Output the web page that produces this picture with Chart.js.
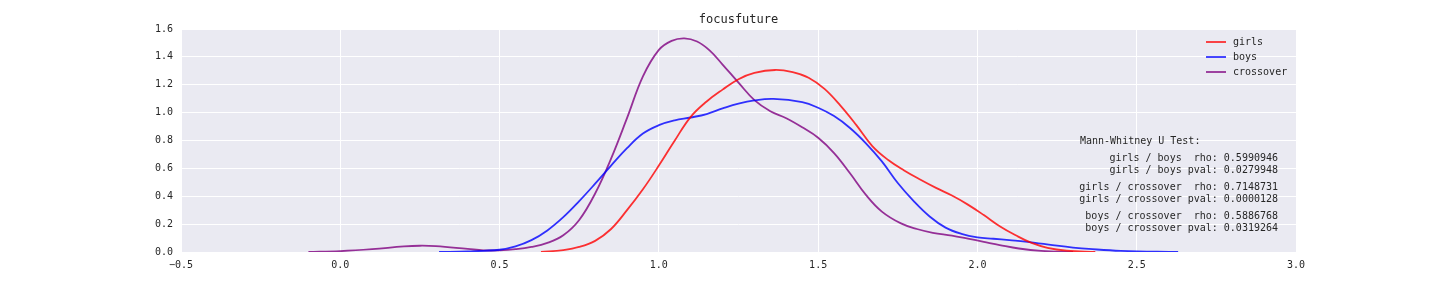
<!DOCTYPE html>
<html>
<head>
<meta charset="utf-8">
<script src="https://cdn.jsdelivr.net/npm/chart.js@4"></script>
<style>
body{margin:0;background:#fff;}
#wrap{width:1440px;height:288px;position:relative;}
</style>
</head>
<body>
<div id="wrap"><canvas id="kdeChart"></canvas></div>
<script>
// kde curves
const girlsX = [0.63,0.70,0.75,0.80,0.85,0.90,0.95,1.00,1.05,1.10,1.15,1.20,1.25,1.30,1.365,1.42,1.47,1.52,1.57,1.62,1.67,1.72,1.77,1.82,1.87,1.92,1.97,2.02,2.07,2.12,2.17,2.22,2.28,2.37];
const girlsY = [0,0.014,0.036,0.08,0.165,0.30,0.45,0.62,0.80,0.97,1.08,1.165,1.24,1.285,1.306,1.29,1.25,1.17,1.05,0.91,0.76,0.66,0.585,0.52,0.46,0.405,0.34,0.265,0.185,0.12,0.065,0.03,0.01,0];

const boysX = [0.31,0.40,0.50,0.55,0.60,0.65,0.70,0.75,0.80,0.85,0.90,0.95,1.00,1.05,1.10,1.15,1.20,1.25,1.30,1.36,1.45,1.50,1.55,1.60,1.65,1.70,1.75,1.80,1.85,1.90,1.95,2.00,2.05,2.10,2.15,2.20,2.25,2.30,2.35,2.45,2.63];
const boysY = [0,0.004,0.016,0.04,0.085,0.155,0.25,0.365,0.49,0.62,0.745,0.85,0.91,0.945,0.965,0.99,1.03,1.065,1.088,1.098,1.075,1.035,0.975,0.89,0.78,0.65,0.495,0.365,0.255,0.175,0.13,0.105,0.095,0.085,0.075,0.06,0.045,0.032,0.022,0.008,0];

const crossX = [-0.10,0.0,0.10,0.20,0.25,0.30,0.40,0.45,0.50,0.55,0.60,0.65,0.70,0.75,0.80,0.85,0.90,0.95,1.00,1.04,1.08,1.12,1.16,1.20,1.25,1.30,1.35,1.40,1.45,1.50,1.55,1.60,1.65,1.70,1.76,1.81,1.86,1.92,1.97,2.02,2.07,2.13,2.20,2.30];
const crossY = [0,0.006,0.02,0.04,0.045,0.042,0.022,0.012,0.012,0.02,0.036,0.065,0.12,0.23,0.42,0.67,0.96,1.26,1.45,1.515,1.533,1.51,1.445,1.345,1.215,1.09,1.01,0.96,0.895,0.82,0.71,0.565,0.41,0.29,0.205,0.165,0.138,0.118,0.096,0.073,0.05,0.025,0.008,0];

const seriesNames = ["girls","boys","crossover"];
const seriesColors = ["rgba(255,0,0,0.8)","rgba(0,0,255,0.8)","rgba(128,0,128,0.8)"];

const statLines = [
  "girls / boys  rho: 0.5990946",
  "girls / boys pval: 0.0279948",
  "girls / crossover  rho: 0.7148731",
  "girls / crossover pval: 0.0000128",
  "boys / crossover  rho: 0.5886768",
  "boys / crossover pval: 0.0319264"
];

const FONT = "'DejaVu Sans Mono', monospace";

function pts(xs, ys){
  return xs.map((x,i) => ({x:x, y:ys[i]}));
}

const bgPlugin = {
  id:'bg',
  beforeDraw(chart){
    const a = chart.chartArea, c = chart.ctx;
    c.save();
    c.fillStyle = '#EAEAF2';
    c.fillRect(a.left, a.top, a.right-a.left, a.bottom-a.top);
    c.restore();
  }
};

const extrasPlugin = {
  id:'extras',
  afterDraw(chart){
    const c = chart.ctx, a = chart.chartArea;
    c.save();
    // title
    c.fillStyle = '#262626';
    c.font = "12px " + FONT;
    c.textAlign = 'center';
    c.textBaseline = 'middle';
    c.fillText('focusfuture', (a.left+a.right)/2, 20);

    // legend
    c.font = "10px " + FONT;
    c.textAlign = 'left';
    seriesNames.forEach((n,i) => {
      const y = 42 + i*15;
      c.strokeStyle = seriesColors[i];
      c.lineWidth = 1.8;
      c.beginPath();
      c.moveTo(1206, y);
      c.lineTo(1226, y);
      c.stroke();
      c.fillStyle = '#262626';
      c.fillText(n, 1233, y);
    });

    // stats text
    c.fillText('Mann-Whitney U Test:', 1080, 141);
    c.textAlign = 'right';
    const ys = [158,170,187,199,216,228];
    statLines.forEach((t,i) => c.fillText(t, 1278, ys[i]));
    c.restore();
  }
};

new Chart(document.getElementById('kdeChart'), {
  type:'scatter',
  data:{
    datasets:[
      {label:seriesNames[0], data:pts(girlsX,girlsY), borderColor:seriesColors[0]},
      {label:seriesNames[1], data:pts(boysX,boysY), borderColor:seriesColors[1]},
      {label:seriesNames[2], data:pts(crossX,crossY), borderColor:seriesColors[2]}
    ]
  },
  options:{
    responsive:true,
    maintainAspectRatio:false,
    animation:false,
    layout:{padding:{left:0,right:144,top:29,bottom:0}},
    elements:{line:{tension:0.4}},
    datasets:{
      scatter:{showLine:true, pointRadius:0, borderWidth:1.8, fill:false}
    },
    plugins:{legend:{display:false}, tooltip:{enabled:false}, title:{display:false}},
    scales:{
      x:{
        type:'linear', min:-0.5, max:3.0,
        afterFit(s){ s.height = 36; },
        border:{display:false},
        grid:{color:'#ffffff', lineWidth:1, drawTicks:false},
        ticks:{
          stepSize:0.5, padding:7, color:'#262626',
          font:{family:FONT, size:10},
          callback:v => (v<0 ? '\u2212' + Math.abs(v).toFixed(1) : v.toFixed(1))
        }
      },
      y:{
        min:0, max:1.6,
        afterFit(s){ s.width = 181; },
        border:{display:false},
        grid:{color:'#ffffff', lineWidth:1, drawTicks:false},
        ticks:{
          stepSize:0.2, padding:8, color:'#262626',
          font:{family:FONT, size:10},
          callback:v => v.toFixed(1)
        }
      }
    }
  },
  plugins:[bgPlugin, extrasPlugin]
});
</script>
</body>
</html>
